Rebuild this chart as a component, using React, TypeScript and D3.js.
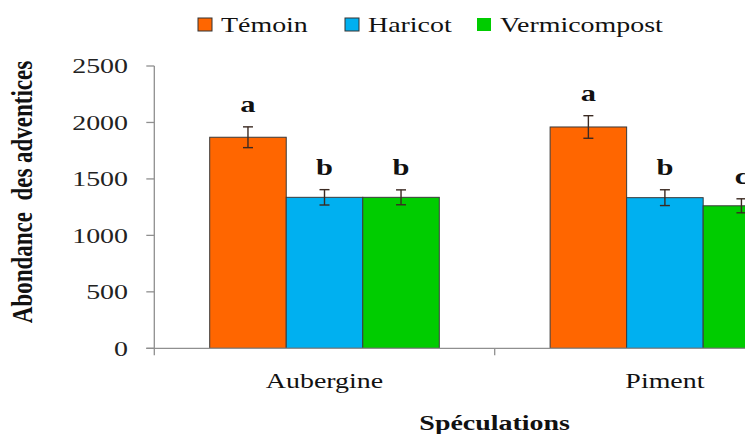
import * as d3 from "d3";
import { useRef, useEffect } from "react";

const categories = ["Aubergine", "Piment"];
const series = ["Témoin", "Haricot", "Vermicompost"];
const colors = ["#FF6600", "#00B0F0", "#00CC00"];
// mean values per category, one array per series
const temoin = [1869, 1960];
const haricot = [1337, 1334];
const vermicompost = [1337, 1262];
const temoinErr = [92, 100];
const haricotErr = [68, 70];
const vermicompostErr = [66, 62];
const letters = [["a", "b", "b"], ["a", "b", "c"]];
const yTicks = [0, 500, 1000, 1500, 2000, 2500];

const SX = 1.27; // the picture is stretched horizontally
const FONT = "'Liberation Serif', 'Times New Roman', serif";

function App() {
  const ref = useRef<HTMLDivElement>(null);
  const width = 745, height = 434;

  useEffect(() => {
    d3.select(ref.current).select("svg").remove();
    const svg = d3.select(ref.current)
      .append("svg")
      .attr("width", width)
      .attr("height", height)
      .style("display", "block");

    const values = [temoin, haricot, vermicompost];
    const errs = [temoinErr, haricotErr, vermicompostErr];
    const data = categories.flatMap((c, ci) =>
      series.map((s, si) => ({ c, ci, s, si, v: values[si][ci], e: errs[si][ci], l: letters[ci][si] }))
    );

    const left = 154.3, bottom = 348.3, top = 66;
    const x0 = d3.scaleBand().domain(categories).range([left, left + 2 * 340.4]);
    const x1 = d3.scaleBand().domain(series).range([0, x0.bandwidth()]).paddingOuter(0.724);
    const y = d3.scaleLinear().domain([0, 2500]).range([bottom, top]);

    // stretched text helper
    const txt = (g, x, yy, s, opts = {}) => {
      const t = g.append("text")
        .attr("transform", `translate(${x},${yy}) scale(${SX},1)`)
        .attr("text-anchor", opts.anchor || "start")
        .style("font-family", FONT)
        .attr("font-size", opts.size || 22)
        .attr("font-weight", opts.bold ? "bold" : "normal")
        .attr("fill", "#111")
        .text(s);
      if (opts.dy) t.attr("dy", opts.dy);
      return t;
    };

    // legend
    const legendX = [198, 345, 477];
    series.forEach((s, i) => {
      svg.append("rect")
        .attr("x", legendX[i]).attr("y", 18)
        .attr("width", 14).attr("height", 13)
        .attr("fill", colors[i])
        .attr("stroke", i < 2 ? "#333" : "none")
        .attr("stroke-width", 1);
      txt(svg, legendX[i] + 23, 32, s, { size: 22 });
    });

    // bars
    svg.append("g").selectAll("rect")
      .data(data)
      .join("rect")
      .attr("x", d => x0(d.c) + x1(d.s))
      .attr("y", d => y(d.v))
      .attr("width", x1.bandwidth())
      .attr("height", d => bottom - y(d.v))
      .attr("fill", d => colors[d.si])
      .attr("stroke", "#3a3a3a")
      .attr("stroke-width", 1);

    // error bars + significance letters
    const eg = svg.append("g").attr("stroke", "#3b2a22").attr("stroke-width", 1.4);
    data.forEach(d => {
      const cx = x0(d.c) + x1(d.s) + x1.bandwidth() / 2;
      eg.append("line").attr("x1", cx).attr("x2", cx).attr("y1", y(d.v + d.e)).attr("y2", y(d.v - d.e));
      eg.append("line").attr("x1", cx - 5).attr("x2", cx + 5).attr("y1", y(d.v + d.e)).attr("y2", y(d.v + d.e));
      eg.append("line").attr("x1", cx - 5).attr("x2", cx + 5).attr("y1", y(d.v - d.e)).attr("y2", y(d.v - d.e));
      txt(svg, cx, y(d.v + d.e) - 15, d.l, { size: 24, bold: true, anchor: "middle" });
    });

    // axes
    const ax = svg.append("g").attr("stroke", "#8f8f8f").attr("stroke-width", 1.3);
    ax.append("line").attr("x1", left).attr("x2", left).attr("y1", top).attr("y2", bottom + 7);
    ax.append("line").attr("x1", left - 8).attr("x2", width).attr("y1", bottom).attr("y2", bottom);
    yTicks.forEach(t => {
      ax.append("line").attr("x1", left - 8).attr("x2", left).attr("y1", y(t)).attr("y2", y(t));
      txt(svg, 128, y(t), String(t), { size: 22, anchor: "end", dy: "0.33em" }).attr("fill", "#222");
    });
    categories.forEach((c) => {
      const bx = x0(c) + x0.bandwidth();
      ax.append("line").attr("x1", bx).attr("x2", bx).attr("y1", bottom).attr("y2", bottom + 7);
      txt(svg, x0(c) + x0.bandwidth() / 2, 388, c, { size: 22, anchor: "middle" });
    });

    // axis titles
    txt(svg, 494.6, 430, "Spéculations", { size: 22, bold: true, anchor: "middle" });
    svg.append("text")
      .attr("transform", `translate(32,192) scale(${SX},1) rotate(-90)`)
      .attr("text-anchor", "middle")
      .style("font-family", FONT)
      .attr("font-size", 23)
      .attr("font-weight", "bold")
      .style("white-space", "pre")
      .attr("fill", "#111")
      .text("Abondance  des adventices");
  });

  return (
    <div
      ref={ref}
      style={{ position: "fixed", left: 0, top: 0, width: 745, height: 434, overflow: "hidden", background: "#fff" }}
    ></div>
  );
}

export default App;
